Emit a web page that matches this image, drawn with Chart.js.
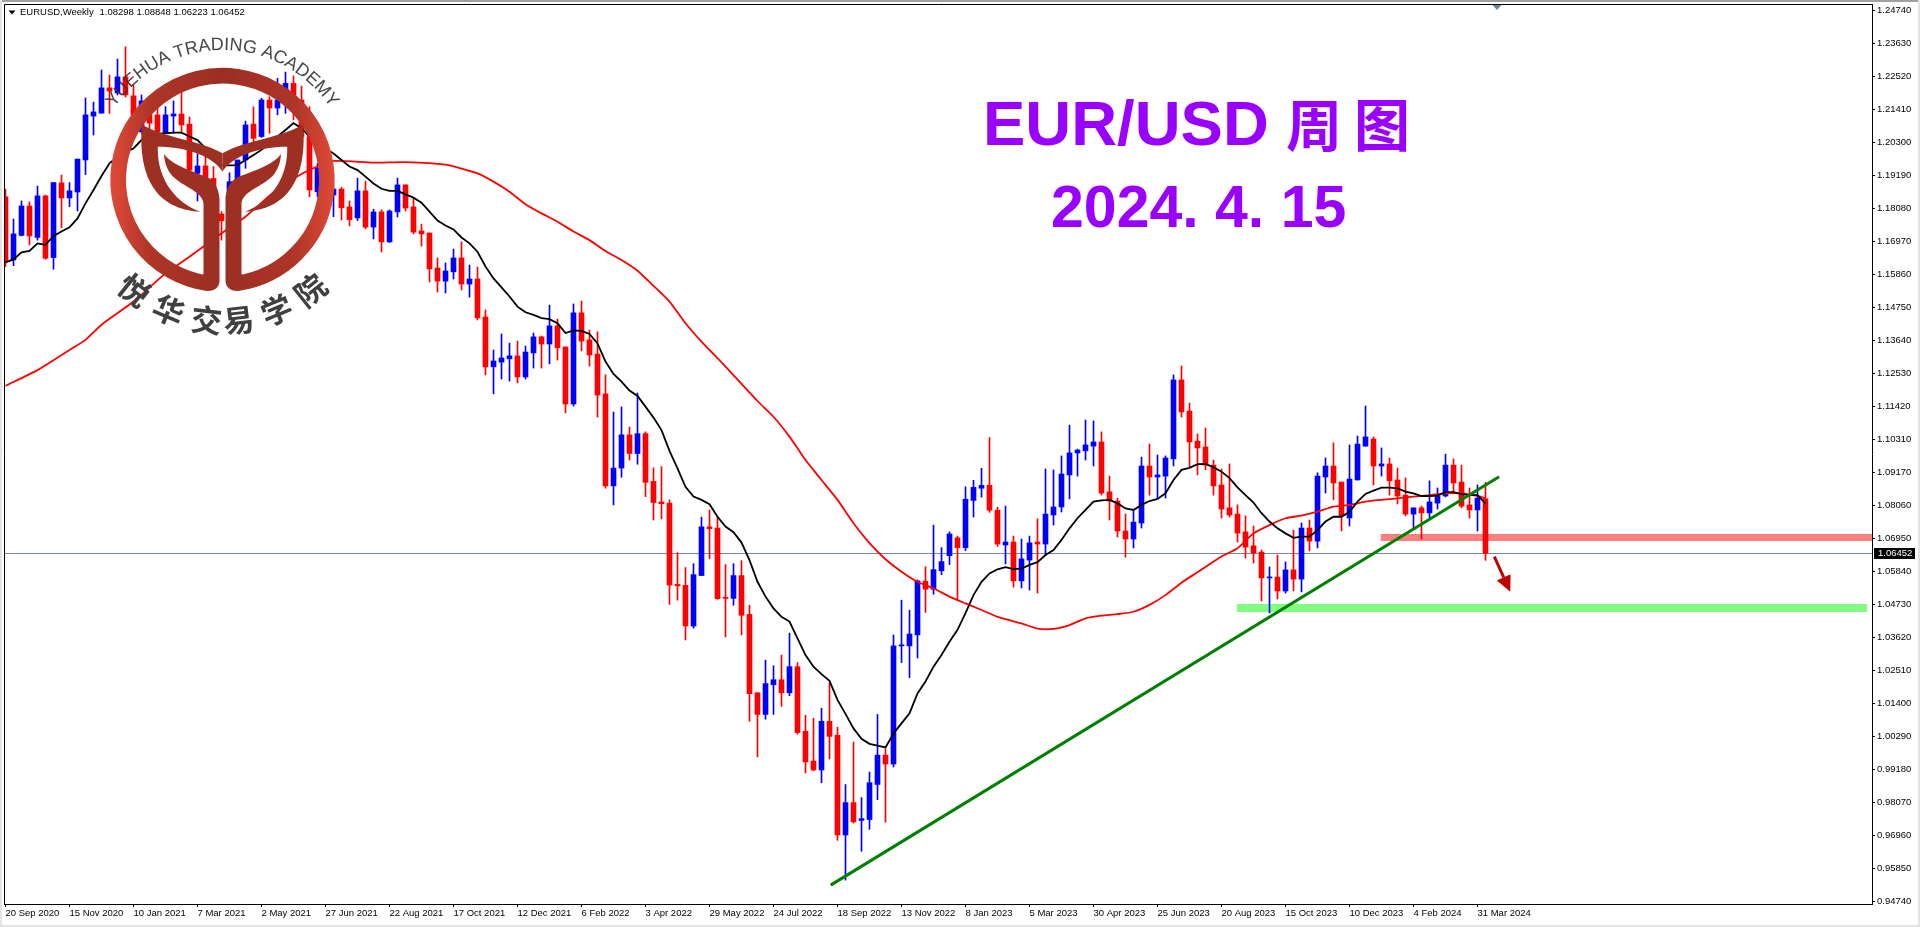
<!DOCTYPE html>
<html>
<head>
<meta charset="utf-8">
<title>EUR/USD 周图</title>
<script src="https://cdn.jsdelivr.net/npm/chart.js@4/dist/chart.umd.js"></script>
<style>
html, body { margin: 0; padding: 0; background: #fff; overflow: hidden; }
canvas { display: block; }
</style>
</head>
<body>
<canvas id="grafico" width="1920" height="927"></canvas>
<script>
// Etiquetas de los ejes
const xLabels = ["20 Sep 2020","15 Nov 2020","10 Jan 2021","7 Mar 2021","2 May 2021","27 Jun 2021","22 Aug 2021","17 Oct 2021","12 Dec 2021","6 Feb 2022","3 Apr 2022","29 May 2022","24 Jul 2022","18 Sep 2022","13 Nov 2022","8 Jan 2023","5 Mar 2023","30 Apr 2023","25 Jun 2023","20 Aug 2023","15 Oct 2023","10 Dec 2023","4 Feb 2024","31 Mar 2024"];
const yLabels = ["1.24740","1.23630","1.22520","1.21410","1.20300","1.19190","1.18080","1.16970","1.15860","1.14750","1.13640","1.12530","1.11420","1.10310","1.09170","1.08060","1.06950","1.05840","1.04730","1.03620","1.02510","1.01400","1.00290","0.99180","0.98070","0.96960","0.95850","0.94740"];
// El terminal redondea el texto: las marcas van a paso constante
const yTicks = [1.2474,1.23629,1.22518,1.21407,1.20296,1.19185,1.18074,1.16963,1.15852,1.14741,1.1363,1.12519,1.11407,1.10296,1.09185,1.08074,1.06963,1.05852,1.04741,1.0363,1.02519,1.01407,1.00296,0.99185,0.98074,0.96963,0.95852,0.9474];

// Velas semanales
const opens = [1.1847,1.1634,1.1717,1.1816,1.1710,1.1850,1.1642,1.1894,1.1843,1.1863,1.1971,1.2119,1.2129,1.2214,1.2197,1.2251,1.2187,1.2066,1.2123,1.2123,1.2063,1.2119,1.2126,1.2092,1.1926,1.1951,1.1909,1.1789,1.1766,1.1898,1.1971,1.2092,1.2050,1.2173,1.2146,1.2190,1.2229,1.2173,1.2050,1.1864,1.1943,1.1853,1.1873,1.1813,1.1776,1.1867,1.1745,1.1796,1.1695,1.1796,1.1887,1.1813,1.1732,1.1725,1.1607,1.1563,1.1594,1.1641,1.1553,1.1570,1.1442,1.1274,1.1290,1.1301,1.1311,1.1240,1.1321,1.1375,1.1351,1.1412,1.1341,1.1149,1.1456,1.1365,1.1317,1.1183,1.0873,1.0933,1.1045,1.0982,1.1049,1.0888,1.0819,1.0815,1.0541,1.0538,1.0401,1.0571,1.0735,1.0731,1.0498,1.0494,1.0571,1.0440,1.0176,1.0103,1.0203,1.0220,1.0176,1.0264,1.0046,0.9946,0.9916,1.0080,1.0033,0.9697,0.9806,0.9746,0.9749,0.9867,0.9966,0.9936,1.0334,1.0334,1.0371,1.0552,1.0525,1.0587,1.0638,1.0698,1.0665,1.0824,1.0865,1.0875,1.0791,1.0674,1.0684,1.0553,1.0623,1.0684,1.0677,1.0775,1.0802,1.0910,1.0984,1.0991,1.1007,1.1021,1.0853,1.0822,1.0721,1.0694,1.0748,1.0940,1.0903,1.0906,1.0964,1.1230,1.1125,1.1024,1.1004,1.0943,1.0876,1.0799,1.0778,1.0718,1.0671,1.0650,1.0563,1.0566,1.0519,1.0590,1.0559,1.0731,1.0687,1.0903,1.0940,1.0886,1.0765,1.0893,1.1007,1.1031,1.0940,1.0947,1.0893,1.0842,1.0778,1.0799,1.0782,1.0815,1.0839,1.0943,1.0886,1.0809,1.0792,1.08298];
const highs = [1.1873,1.1772,1.1833,1.1830,1.1883,1.1853,1.1895,1.1920,1.1895,1.1974,1.2180,1.2166,1.2274,1.2257,1.2311,1.2352,1.2224,1.2190,1.2148,1.2148,1.2151,1.2170,1.2198,1.2116,1.1991,1.1982,1.1949,1.1797,1.1928,1.1971,1.2102,1.2150,1.2179,1.2184,1.2246,1.2267,1.2254,1.2220,1.2151,1.1960,1.1960,1.1881,1.1879,1.1833,1.1910,1.1900,1.1805,1.1803,1.1803,1.1910,1.1887,1.1842,1.1755,1.1725,1.1641,1.1624,1.1671,1.1695,1.1617,1.1610,1.1466,1.1331,1.1385,1.1354,1.1361,1.1344,1.1388,1.1378,1.1482,1.1435,1.1341,1.1486,1.1496,1.1398,1.1392,1.1247,1.1122,1.1139,1.1071,1.1186,1.1055,1.0934,1.0938,1.0826,1.0648,1.0598,1.0611,1.0768,1.0792,1.0769,1.0608,1.0611,1.0621,1.0471,1.0176,1.0286,1.0267,1.0303,1.0377,1.0278,1.0100,1.0090,1.0124,1.0208,1.0060,0.9867,1.0010,0.9823,0.9909,1.0103,0.9987,1.0371,1.0488,1.0454,1.0556,1.0601,1.0741,1.0665,1.0718,1.0704,1.0870,1.0892,1.0932,1.1036,1.0801,1.0805,1.0704,1.0694,1.0704,1.0762,1.0930,1.0927,1.0974,1.1078,1.0997,1.1095,1.1092,1.1055,1.0906,1.0832,1.0778,1.0788,1.0970,1.1014,1.0977,1.0974,1.1247,1.1277,1.1152,1.1048,1.1068,1.0960,1.0930,1.0947,1.0809,1.0772,1.0738,1.0657,1.0600,1.0640,1.0617,1.0724,1.0748,1.0758,1.0917,1.0967,1.1018,1.0886,1.1011,1.1041,1.1142,1.1038,1.1001,1.0967,1.0933,1.0900,1.0799,1.0805,1.0890,1.0866,1.0980,1.0964,1.0943,1.0866,1.0876,1.08848];
const lows = [1.1612,1.1615,1.1715,1.1685,1.1701,1.1636,1.1603,1.1743,1.1814,1.1799,1.1922,1.2055,1.2128,1.2128,1.2190,1.2183,1.2100,1.2061,1.2066,1.2061,1.2061,1.2061,1.2061,1.1932,1.1833,1.1881,1.1780,1.1701,1.1758,1.1876,1.1943,1.2027,1.2047,1.2061,1.2123,1.2128,1.2106,1.2027,1.1847,1.1847,1.1836,1.1780,1.1769,1.1749,1.1767,1.1739,1.1705,1.1661,1.1693,1.1779,1.1799,1.1722,1.1681,1.1560,1.1526,1.1523,1.1570,1.1533,1.1509,1.1432,1.1247,1.1183,1.1233,1.1226,1.1220,1.1233,1.1270,1.1270,1.1284,1.1297,1.1119,1.1142,1.1328,1.1277,1.1105,1.0865,1.0809,1.0902,1.0960,1.0946,1.0837,1.0758,1.0762,1.0474,1.0488,1.0354,1.0394,1.0571,1.0628,1.0491,1.0364,1.0471,1.0371,1.0080,0.9960,1.0087,1.0103,1.0130,1.0166,1.0037,0.9906,0.9913,0.9873,0.9953,0.9679,0.9545,0.9737,0.9642,0.9716,0.9816,0.9740,0.9926,1.0278,1.0227,1.0293,1.0447,1.0508,1.0574,1.0608,1.0488,1.0655,1.0768,1.0835,1.0784,1.0669,1.0610,1.0532,1.0529,1.0522,1.0512,1.0640,1.0741,1.0785,1.0829,1.0906,1.0960,1.0940,1.0842,1.0758,1.0701,1.0633,1.0664,1.0731,1.0842,1.0832,1.0832,1.0940,1.1105,1.0937,1.0910,1.0927,1.0842,1.0765,1.0768,1.0684,1.0630,1.0613,1.0485,1.0445,1.0492,1.0512,1.0519,1.0516,1.0654,1.0664,1.0849,1.0826,1.0721,1.0738,1.0893,1.1007,1.0876,1.0906,1.0842,1.0812,1.0772,1.0728,1.0694,1.0765,1.0795,1.0836,1.0846,1.0799,1.0765,1.0721,1.06223];
const closes = [1.1628,1.1722,1.1816,1.1715,1.1850,1.1640,1.1895,1.1843,1.1867,1.1974,1.2123,1.2133,1.2214,1.2203,1.2251,1.2190,1.2123,1.2170,1.2095,1.2066,1.2123,1.2126,1.2089,1.1937,1.1951,1.1909,1.1789,1.1766,1.1898,1.1971,1.2089,1.2044,1.2173,1.2146,1.2173,1.2229,1.2162,1.2050,1.1870,1.1943,1.1859,1.1873,1.1810,1.1770,1.1867,1.1745,1.1796,1.1695,1.1799,1.1887,1.1809,1.1728,1.1722,1.1604,1.1563,1.1597,1.1641,1.1553,1.1570,1.1439,1.1274,1.1294,1.1304,1.1311,1.1240,1.1324,1.1375,1.1351,1.1412,1.1338,1.1149,1.1456,1.1361,1.1314,1.1179,1.0873,1.0933,1.1045,1.0982,1.1049,1.0885,1.0817,1.0813,1.0539,1.0536,1.0401,1.0574,1.0735,1.0729,1.0493,1.0494,1.0571,1.0437,1.0173,1.0103,1.0207,1.0220,1.0176,1.0264,1.0042,0.9943,0.9916,1.0080,1.0029,0.9697,0.9806,0.9741,0.9752,0.9873,0.9966,0.9936,1.0334,1.0337,1.0374,1.0553,1.0525,1.0591,1.0618,1.0711,1.0665,1.0828,1.0868,1.0875,1.0791,1.0677,1.0684,1.0553,1.0627,1.0681,1.0677,1.0778,1.0802,1.0913,1.0984,1.0994,1.1011,1.1021,1.0849,1.0822,1.0721,1.0694,1.0751,1.0940,1.0903,1.0910,1.0967,1.1230,1.1122,1.1021,1.1001,1.0943,1.0873,1.0795,1.0775,1.0714,1.0667,1.0647,1.0563,1.0566,1.0519,1.0590,1.0559,1.0731,1.0687,1.0906,1.0940,1.0883,1.0772,1.0896,1.1014,1.1038,1.0940,1.0947,1.0890,1.0839,1.0778,1.0799,1.0782,1.0819,1.0839,1.0943,1.0883,1.0805,1.0792,1.0832,1.06452];

// Media rápida (negra), una lectura por vela
const maFast = [1.1626,1.1636,1.1660,1.1665,1.1690,1.1685,1.1715,1.1730,1.1744,1.1774,1.1825,1.1870,1.1917,1.1960,1.1982,1.1999,1.2010,1.2038,1.2052,1.2059,1.2061,1.2063,1.2063,1.2050,1.2038,1.2010,1.1982,1.1954,1.1953,1.1954,1.1971,1.1988,1.2005,1.2027,1.2050,1.2072,1.2095,1.2078,1.2050,1.2027,1.2010,1.1993,1.1971,1.1949,1.1937,1.1915,1.1892,1.1874,1.1867,1.1867,1.1855,1.1844,1.1827,1.1797,1.1767,1.1750,1.1737,1.1710,1.1690,1.1662,1.1612,1.1572,1.1542,1.1511,1.1477,1.1458,1.1449,1.1438,1.1435,1.1421,1.1388,1.1397,1.1395,1.1385,1.1353,1.1292,1.1250,1.1224,1.1194,1.1176,1.1140,1.1103,1.1061,1.0991,1.0932,1.0870,1.0837,1.0826,1.0811,1.0769,1.0736,1.0717,1.0682,1.0623,1.0550,1.0500,1.0460,1.0432,1.0416,1.0359,1.0303,1.0264,1.0239,1.0216,1.0152,1.0105,1.0056,1.0021,1.0004,0.9998,0.9992,1.0039,1.0073,1.0107,1.0174,1.0214,1.0264,1.0303,1.0348,1.0388,1.0444,1.0505,1.0550,1.0578,1.0592,1.0599,1.0593,1.0594,1.0607,1.0616,1.0640,1.0657,1.0691,1.0730,1.0764,1.0792,1.0820,1.0824,1.0826,1.0814,1.0797,1.0792,1.0809,1.0822,1.0829,1.0848,1.0893,1.0927,1.0934,1.0946,1.0947,1.0936,1.0921,1.0899,1.0868,1.0842,1.0817,1.0781,1.0753,1.0730,1.0713,1.0698,1.0702,1.0702,1.0724,1.0753,1.0769,1.0769,1.0786,1.0820,1.0846,1.0857,1.0867,1.0867,1.0865,1.0854,1.0848,1.0839,1.0839,1.0840,1.0852,1.0852,1.0845,1.0842,1.0842,1.0814];

// Media lenta (roja), lecturas sueltas: vela y precio
const maSlowBars = [0,4,8,10,12,16,20,23,27,30,34,37,39,41,46,50,55,59,61,63,65,67,69,71,73,75,77,79,81,83,85,87,90,94,96,98,100,102,104,106,108,110,112,114,116,118,120,122,124,127,129,131,133,135,137,139,141,143,145,147,149,152,154,156,158,160,162,164,166,168,170,172,174,176,178,180,182,184,185];
const maSlow = [1.1210,1.1263,1.1331,1.1365,1.1416,1.1494,1.1589,1.1645,1.1724,1.1780,1.1873,1.1924,1.1949,1.1968,1.1962,1.1964,1.1955,1.1926,1.1898,1.1864,1.1822,1.1791,1.1763,1.1730,1.1701,1.1664,1.1634,1.1598,1.1547,1.1494,1.1421,1.1359,1.1275,1.1159,1.1106,1.1039,1.0960,1.0893,1.0826,1.0747,1.0680,1.0626,1.0584,1.0550,1.0528,1.0500,1.0477,1.0455,1.0432,1.0410,1.0392,1.0391,1.0404,1.0427,1.0436,1.0441,1.0449,1.0472,1.0505,1.0547,1.0582,1.0635,1.0663,1.0713,1.0741,1.0764,1.0773,1.0786,1.0803,1.0809,1.0820,1.0826,1.0831,1.0837,1.0842,1.0848,1.0848,1.0839,1.0831];

// Dibujos sobre el gráfico: [vela, precio]
const trendLine = [[103.15, 0.9528], [186.7, 1.0904]];
const pinkBand = [[171.9, 1.06992], [233.3125, 1.06992]];
const greenBand = [[153.94, 1.0462], [232.69, 1.0462]];
const lastPrice = 1.06452;
const arrowFrom = [186.1, 1.0635];
const arrowTo = [188.1, 1.0516];

const AZUL = "#0000ff";
const ROJO = "#ff0000";
const MORADO = "#9900ff";
const FUENTE = "'Liberation Sans', Arial, sans-serif";

const colores = closes.map((c, i) => c >= opens[i] ? AZUL : ROJO);
const aPuntos = par => par.map(p => ({ x: p[0], y: p[1] }));

function lineaFija(puntos, color, ancho, orden) {
    return {
        type: "line",
        data: aPuntos(puntos),
        borderColor: color,
        borderWidth: ancho,
        pointRadius: 0,
        tension: 0,
        order: orden
    };
}

// Logo de la academia, dibujado en coordenadas propias
function dibujarLogo(ctx) {
    const cx = 667, cy = 540;
    ctx.save();
    ctx.translate(222.5, 180);
    ctx.scale(1 / 3, 1 / 3);
    ctx.translate(-cx, -cy);

    const grad = ctx.createLinearGradient(330, 0, 1003, 0);
    grad.addColorStop(0, "#e04a38");
    grad.addColorStop(0.18, "#ae3527");
    grad.addColorStop(0.5, "#9b2f22");
    grad.addColorStop(0.82, "#ae3527");
    grad.addColorStop(1, "#e04a38");

    // Anillo abierto por abajo
    ctx.strokeStyle = grad;
    ctx.lineWidth = 47;
    ctx.beginPath();
    ctx.arc(cx, cy, 313, Math.PI * 98 / 180, Math.PI * 82 / 180);
    ctx.stroke();

    // Las dos mitades de la figura central
    for (const lado of [1, -1]) {
        ctx.save();
        ctx.translate(cx, 0);
        ctx.scale(lado, 1);
        ctx.translate(-cx, 0);
        ctx.fillStyle = "#9e3023";

        ctx.beginPath();
        ctx.moveTo(425, 372);
        ctx.bezierCurveTo(480, 412, 600, 420, 667, 460);
        ctx.lineTo(667, 515);
        ctx.bezierCurveTo(640, 470, 560, 440, 473, 440);
        ctx.bezierCurveTo(470, 520, 510, 600, 600, 635);
        ctx.bezierCurveTo(500, 630, 410, 570, 425, 372);
        ctx.closePath();
        ctx.fill();

        ctx.beginPath();
        ctx.moveTo(492, 462);
        ctx.bezierCurveTo(510, 490, 560, 510, 620, 530);
        ctx.bezierCurveTo(650, 545, 658, 580, 658, 600);
        ctx.lineTo(658, 840);
        ctx.quadraticCurveTo(658, 872, 622, 873);
        ctx.lineTo(590, 860);
        ctx.lineTo(610, 822);
        ctx.lineTo(610, 610);
        ctx.bezierCurveTo(605, 570, 540, 560, 510, 520);
        ctx.bezierCurveTo(497, 500, 492, 480, 492, 462);
        ctx.closePath();
        ctx.fill();
        ctx.restore();
    }
    ctx.restore();

    // Texto en arco, arriba
    const centroX = 222.5, centroY = 180;
    const arriba = "YUEHUA TRADING ACADEMY";
    ctx.save();
    ctx.font = "18px " + FUENTE;
    ctx.fillStyle = "rgba(50,50,50,0.9)";
    ctx.textAlign = "center";
    ctx.textBaseline = "alphabetic";
    const radio = 130;
    let total = 0;
    for (const c of arriba) total += ctx.measureText(c).width;
    let giro = -total / 2;
    for (const c of arriba) {
        const w = ctx.measureText(c).width;
        const ang = (giro + w / 2) / radio;
        ctx.save();
        ctx.translate(centroX, centroY);
        ctx.rotate(ang);
        ctx.fillText(c, 0, -radio);
        ctx.restore();
        giro += w;
    }
    ctx.restore();

    // Texto en arco, abajo
    const abajo = "悦华交易学院";
    const angulos = [38.6, 22.5, 6.5, -6.5, -22.5, -38.6];
    ctx.save();
    ctx.font = "bold 31px 'Noto Sans CJK SC'";
    ctx.fillStyle = "#404040";
    ctx.textAlign = "center";
    ctx.textBaseline = "middle";
    Array.from(abajo).forEach((c, i) => {
        ctx.save();
        ctx.translate(centroX, centroY);
        ctx.rotate(angulos[i] * Math.PI / 180);
        ctx.fillText(c, 0, 141);
        ctx.restore();
    });
    ctx.restore();
}

function dibujarFlecha(ctx, x0, y0, x1, y1) {
    const ang = Math.atan2(y1 - y0, x1 - x0);
    const largo = 16, mitad = 7.5;
    const bx = x1 - largo * Math.cos(ang), by = y1 - largo * Math.sin(ang);
    ctx.save();
    ctx.strokeStyle = "#c00000";
    ctx.fillStyle = "#c00000";
    ctx.lineWidth = 3;
    ctx.beginPath();
    ctx.moveTo(x0, y0);
    ctx.lineTo(bx, by);
    ctx.stroke();
    ctx.beginPath();
    ctx.moveTo(x1, y1);
    ctx.lineTo(bx - mitad * Math.sin(ang), by + mitad * Math.cos(ang));
    ctx.lineTo(bx + mitad * Math.sin(ang), by - mitad * Math.cos(ang));
    ctx.closePath();
    ctx.fill();
    ctx.restore();
}

const marco = {
    id: "marco",
    beforeDraw(chart) {
        const ctx = chart.ctx;
        ctx.save();
        ctx.fillStyle = "#ffffff";
        ctx.fillRect(0, 0, 1920, 927);
        // borde gris de la ventana
        ctx.fillStyle = "#a0a0a0";
        ctx.fillRect(0, 0, 1920, 2);
        ctx.fillStyle = "#e4e4e4";
        ctx.fillRect(0, 925, 1920, 2);
        ctx.fillRect(1918, 0, 2, 927);
        ctx.fillRect(0, 0, 2, 927);
        ctx.restore();
    },
    afterDatasetsDraw(chart) {
        const ctx = chart.ctx, a = chart.chartArea;
        const x = chart.scales.x, y = chart.scales.y;

        dibujarFlecha(ctx, x.getPixelForValue(arrowFrom[0]), y.getPixelForValue(arrowFrom[1]),
            x.getPixelForValue(arrowTo[0]), y.getPixelForValue(arrowTo[1]));

        dibujarLogo(ctx);

        // Títulos
        ctx.save();
        ctx.fillStyle = MORADO;
        ctx.textAlign = "left";
        ctx.textBaseline = "alphabetic";
        ctx.font = "bold 63.5px " + FUENTE;
        ctx.fillText("EUR/USD", 983, 145);
        ctx.font = "bold 56px 'Noto Sans CJK SC'";
        ctx.fillText("周", 1286, 146);
        ctx.fillText("图", 1354, 146);
        ctx.font = "bold 59px " + FUENTE;
        ctx.fillText("2024. 4. 15", 1051, 227);
        ctx.restore();

        // Líneas izquierda y superior del área
        ctx.save();
        ctx.strokeStyle = "#000000";
        ctx.lineWidth = 1;
        ctx.beginPath();
        ctx.moveTo(a.left + 0.5, a.bottom);
        ctx.lineTo(a.left + 0.5, a.top + 0.5);
        ctx.lineTo(a.right, a.top + 0.5);
        ctx.stroke();

        // Triángulo de desplazamiento arriba
        ctx.fillStyle = "#6f8296";
        ctx.beginPath();
        ctx.moveTo(1492.5, 5);
        ctx.lineTo(1501.5, 5);
        ctx.lineTo(1497, 10);
        ctx.closePath();
        ctx.fill();

        // Cabecera del símbolo
        ctx.fillStyle = "#000000";
        ctx.beginPath();
        ctx.moveTo(8.5, 10.5);
        ctx.lineTo(15.5, 10.5);
        ctx.lineTo(12, 14.5);
        ctx.closePath();
        ctx.fill();
        ctx.font = "9.5px " + FUENTE;
        ctx.textAlign = "left";
        ctx.textBaseline = "middle";
        ctx.fillText("EURUSD,Weekly", 20, 12.5);
        ctx.fillText("1.08298 1.08848 1.06223 1.06452", 99.5, 12.5);

        // Etiqueta del último precio
        ctx.fillStyle = "#000000";
        ctx.fillRect(1874, 548, 41, 11);
        ctx.fillStyle = "#ffffff";
        ctx.font = "9.5px " + FUENTE;
        ctx.fillText(lastPrice.toFixed(5), 1878, 553.5);
        ctx.restore();
    }
};

new Chart(document.getElementById("grafico"), {
    type: "bar",
    plugins: [marco],
    data: {
        datasets: [
            // mechas
            {
                data: highs.map((h, i) => ({ x: i, y: [lows[i], h] })),
                backgroundColor: colores,
                barThickness: 1,
                grouped: false,
                order: 4
            },
            // cuerpos
            {
                data: opens.map((o, i) => ({ x: i, y: [o, closes[i]] })),
                backgroundColor: colores,
                barThickness: 5,
                minBarLength: 1,
                grouped: false,
                order: 3
            },
            lineaFija(pinkBand, "#ff8080", 7, 6),
            lineaFija(greenBand, "#80ff80", 8, 6),
            lineaFija([[-0.1875, lastPrice], [233.3125, lastPrice]], "#778899", 1, 5),
            {
                type: "line",
                data: maSlowBars.map((b, i) => ({ x: b, y: maSlow[i] })),
                borderColor: ROJO,
                borderWidth: 1.8,
                pointRadius: 0,
                tension: 0.2,
                order: 2
            },
            {
                type: "line",
                data: maFast.map((v, i) => ({ x: i, y: v })),
                borderColor: "#000000",
                borderWidth: 1.8,
                pointRadius: 0,
                tension: 0,
                order: 1
            },
            lineaFija(trendLine, "#008000", 3, 0)
        ]
    },
    options: {
        responsive: false,
        animation: false,
        events: [],
        layout: { padding: { left: 4, top: 4, right: 0, bottom: 0 } },
        plugins: { legend: { display: false }, tooltip: { enabled: false } },
        scales: {
            x: {
                type: "linear",
                offset: false,
                min: -0.1875,
                max: 233.3125,
                // altura fija y sin márgenes por el texto de las marcas
                afterFit: s => { s.height = 23; s.paddingLeft = 0; s.paddingRight = 0; },
                afterBuildTicks: s => { s.ticks = xLabels.map((l, i) => ({ value: i * 8 })); },
                grid: { drawOnChartArea: false, offset: false, tickLength: 3, tickColor: "#000000" },
                border: { color: "#000000" },
                ticks: {
                    autoSkip: false,
                    maxRotation: 0,
                    align: "start",
                    padding: 1,
                    color: "#000000",
                    font: { family: FUENTE, size: 9.5 },
                    callback: (v, i) => xLabels[i]
                }
            },
            y: {
                position: "right",
                min: 0.94644,
                max: 1.24965,
                afterFit: s => { s.width = 48; s.paddingTop = 0; s.paddingBottom = 0; },
                afterBuildTicks: s => { s.ticks = yTicks.map(v => ({ value: v })); },
                grid: { drawOnChartArea: false, tickLength: 3, tickColor: "#000000" },
                border: { color: "#000000" },
                ticks: {
                    autoSkip: false,
                    padding: 2,
                    color: "#000000",
                    font: { family: FUENTE, size: 9.5 },
                    callback: (v, i) => yLabels[i]
                }
            }
        }
    }
});
</script>
</body>
</html>
